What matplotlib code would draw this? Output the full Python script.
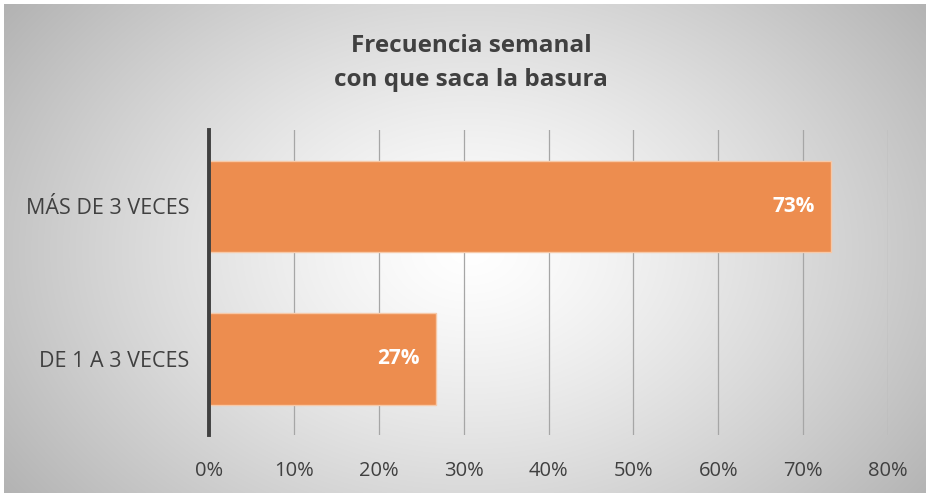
import numpy as np
import matplotlib
matplotlib.use("Agg")
import matplotlib.pyplot as plt
from matplotlib.ticker import FuncFormatter

categories = ["DE 1 A 3 VECES", "MÁS DE 3 VECES"]
values = [0.267, 0.733]
labels = ["27%", "73%"]
xticks = [0, 0.1, 0.2, 0.3, 0.4, 0.5, 0.6, 0.7, 0.8]
title = "Frecuencia semanal\ncon que saca la basura"

plt.rcParams['font.family'] = ['Open Sans', 'DejaVu Sans']

W, H = 926, 493
fig = plt.figure(figsize=(W / 100, H / 100), dpi=100)

# radial gradient background
bg = fig.add_axes([0, 0, 1, 1], zorder=-10)
yy, xx = np.mgrid[0:H, 0:W]
cx, cy = 470, 250
r = np.sqrt(((xx - cx) / (W * 0.62)) ** 2 + ((yy - cy) / (H * 0.85)) ** 2)
g = np.clip(1.0 - 0.30 * r ** 1.3, 0, 1)
img = np.dstack([g, g, g])
img[:4, :, :] = 1.0
img[:, :4, :] = 1.0
bg.imshow(img, extent=[0, 1, 0, 1], aspect='auto', origin='upper')
bg.axis('off')

ax = fig.add_axes([209 / W, 1 - 435 / H, (888 - 209) / W, (435 - 130) / H])
ax.patch.set_alpha(0)
ypos = np.arange(len(categories))
bars = ax.barh(ypos, values, height=0.6, color='#ED8D4F', edgecolor='#F7C9A8',
               linewidth=1.0, zorder=3)
for b, lab in zip(bars, labels):
    ax.text(b.get_width() - 0.019, b.get_y() + b.get_height() / 2, lab,
            ha='right', va='center', color='white', fontsize=15,
            fontweight='bold', zorder=4)

ax.set_xlim(0, 0.8)
ax.set_ylim(-0.5, 1.5)
ax.set_xticks(xticks)
ax.xaxis.set_major_formatter(FuncFormatter(lambda v, p: f"{v * 100:.0f}%"))
ax.set_yticks(ypos)
ax.set_yticklabels(categories)
ax.grid(axis='x', color='#A6A6A6', linewidth=0.9, zorder=1)
ax.set_axisbelow(True)
for s in ['top', 'right', 'bottom']:
    ax.spines[s].set_visible(False)
ax.spines['left'].set_color('#404040')
ax.spines['left'].set_linewidth(2.8)
ax.spines['left'].set_zorder(5)
ax.tick_params(axis='x', length=0, labelsize=14.5, colors='#404040', pad=19)
ax.tick_params(axis='y', length=0, labelsize=15.5, colors='#404040', pad=14)

fig.text(471 / W, 1 - 63 / H, title, ha='center', va='center', fontsize=17.5,
         fontweight='bold', color='#404040', linespacing=1.55)

fig.savefig("out.png", dpi=100)
